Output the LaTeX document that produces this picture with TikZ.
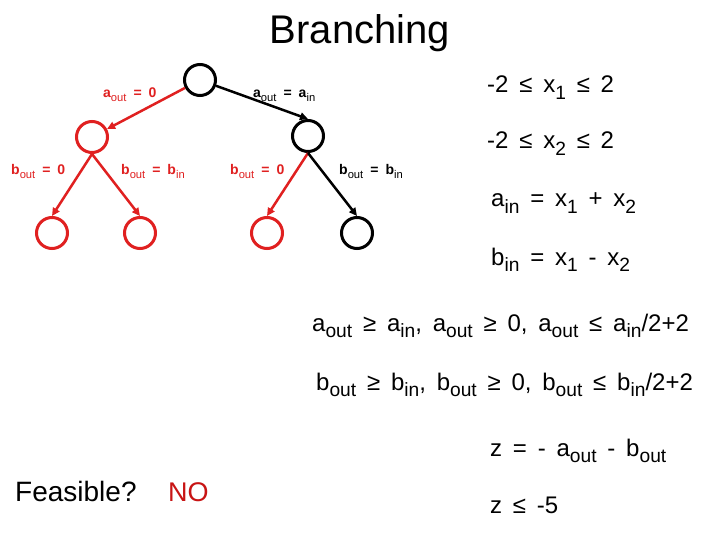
\documentclass[tikz,border=0pt]{standalone}
\usepackage{fontspec}
\usepackage{graphicx}
\setmainfont{Liberation Sans}
\usetikzlibrary{arrows.meta}
\definecolor{rd}{RGB}{224,32,32}
\definecolor{nored}{RGB}{200,20,20}
\newcommand{\sbs}[1]{\raisebox{-0.28em}{\scalebox{0.8}{\mdseries #1}}}
\newcommand{\lblfont}{\fontsize{14}{16}\selectfont\bfseries\spaceskip=0.5em\relax}
\newcommand{\eqfont}{\fontsize{24}{28}\selectfont\spaceskip=0.45em\relax}
\begin{document}
\begin{tikzpicture}[x=1pt,y=-1pt,
  nd/.style={circle, draw, line width=3pt, minimum size=31pt, inner sep=0pt},
  rn/.style={nd, draw=rd},
  edgearr/.style={line width=2.5pt, -{Triangle[length=8pt,width=7.5pt]}},
  lbl/.style={font=\lblfont, anchor=base west, inner sep=0pt},
  eq/.style={font=\eqfont, anchor=base west, inner sep=0pt}]
\useasboundingbox (0,0) rectangle (720,540);
\fill[white] (0,0) rectangle (720,540);
\node[font=\fontsize{40}{44}\selectfont, anchor=base, inner sep=0pt] (title) at (360,44) {Branching};
% tree
\node[nd] (root) at (200,80) {};
\node[rn] (lm) at (92,137) {};
\node[nd] (rm) at (308,136) {};
\node[rn] (l1) at (52,233) {};
\node[rn] (l2) at (140,233) {};
\node[rn] (l3) at (267,233) {};
\node[nd] (l4) at (357,233) {};
\draw[edgearr, draw=rd, fill=rd] (root) -- (lm);
\draw[edgearr] (root) -- (rm.north);
\draw[edgearr, draw=rd, fill=rd] (lm.south) -- (l1.north);
\draw[edgearr, draw=rd, fill=rd] (lm.south) -- (l2.north);
\draw[edgearr, draw=rd, fill=rd] (rm.south) -- (l3.north);
\draw[edgearr] (rm.south) -- (l4.north);
% edge labels
\node[lbl, text=rd] (la) at (103,98) {a\sbs{out} = 0};
\node[lbl] (lb) at (253,98) {a\sbs{out} = a\sbs{in}};
\node[lbl, text=rd] (lc) at (11,175) {b\sbs{out} = 0};
\node[lbl, text=rd] (ld) at (121,175) {b\sbs{out} = b\sbs{in}};
\node[lbl, text=rd] (le) at (230,175) {b\sbs{out} = 0};
\node[lbl] (lf) at (339,175) {b\sbs{out} = b\sbs{in}};
% constraints
\node[eq] (c1) at (487,93) {-2 ≤ x\sbs{1} ≤ 2};
\node[eq] (c2) at (487,149) {-2 ≤ x\sbs{2} ≤ 2};
\node[eq] (c3) at (491,207) {a\sbs{in} = x\sbs{1} + x\sbs{2}};
\node[eq] (c4) at (491,265) {b\sbs{in} = x\sbs{1} - x\sbs{2}};
\node[eq] (c5) at (312,331) {a\sbs{out} ≥ a\sbs{in}, a\sbs{out} ≥ 0, a\sbs{out} ≤ a\sbs{in}/2+2};
\node[eq] (c6) at (316,390) {b\sbs{out} ≥ b\sbs{in}, b\sbs{out} ≥ 0, b\sbs{out} ≤ b\sbs{in}/2+2};
\node[eq] (c7) at (490,456) {z = - a\sbs{out} - b\sbs{out}};
\node[eq] (c8) at (490,513) {z ≤ -5};
\node[font=\fontsize{28}{32}\selectfont, anchor=base west, inner sep=0pt] (feas) at (15,501) {Feasible?};
\node[font=\fontsize{27}{32}\selectfont, anchor=base west, inner sep=0pt, text=nored] (no) at (168,501) {NO};
\end{tikzpicture}
\end{document}
